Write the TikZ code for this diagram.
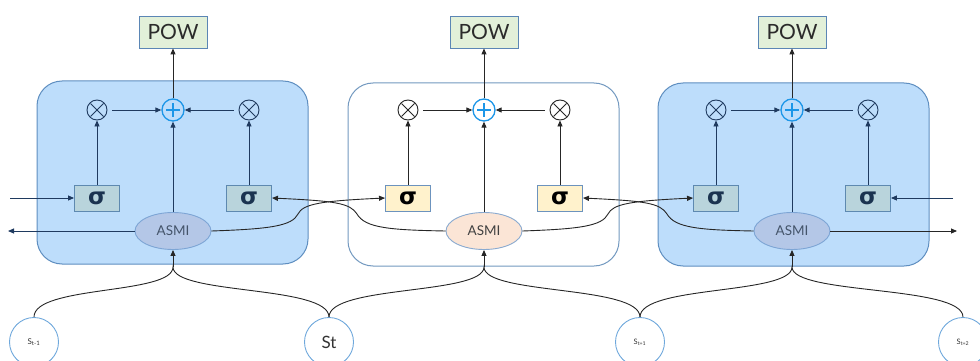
\documentclass[tikz,border=0pt]{standalone}
\usepackage{fontspec}
\setmainfont{Lato}
\newfontfamily\sigmafont{DejaVu Sans}
\usetikzlibrary{arrows.meta,calc,shapes.geometric}

\definecolor{cellfill}{HTML}{BDDDFB}
\definecolor{cellline}{HTML}{5E8EC0}
\definecolor{plainline}{HTML}{7399C0}
\definecolor{powfill}{HTML}{E2F0D9}
\definecolor{powline}{HTML}{5B86B5}
\definecolor{powtext}{HTML}{2B2B2B}
\definecolor{gatefill}{HTML}{B9D4DC}
\definecolor{gateline}{HTML}{5E89B0}
\definecolor{gatetext}{HTML}{1B3350}
\definecolor{yellowfill}{HTML}{FFF2CC}
\definecolor{yellowline}{HTML}{6C93BE}
\definecolor{asmifill}{HTML}{B4C7E7}
\definecolor{asmiline}{HTML}{7DA5D5}
\definecolor{asmitext}{HTML}{44546A}
\definecolor{peachfill}{HTML}{FBE5D6}
\definecolor{peachline}{HTML}{8AAAD0}
\definecolor{plusblue}{HTML}{1C96E8}
\definecolor{navyline}{HTML}{1F3A5F}
\definecolor{darkline}{HTML}{262626}
\definecolor{statering}{HTML}{6FA8DC}

\tikzset{
  cellbox/.style={rounded corners=25pt, line width=1pt},
  bluecell/.style={cellbox, draw=cellline, fill=cellfill},
  whitecell/.style={cellbox, draw=plainline, fill=white},
  powbox/.style={draw=powline, fill=powfill, minimum width=68pt, minimum height=32pt,
    inner sep=0pt, line width=0.9pt, text=powtext, font=\fontsize{21}{24}\selectfont},
  gate/.style={minimum width=45pt, minimum height=26pt, inner sep=0pt, line width=0.9pt,
    font=\sigmafont\bfseries\fontsize{23}{24}\selectfont},
  gateblue/.style={gate, draw=gateline, fill=gatefill, text=gatetext},
  gateyellow/.style={gate, draw=yellowline, fill=yellowfill, text=black},
  asmi/.style={ellipse, minimum width=76pt, minimum height=37pt, inner sep=0pt,
    line width=0.9pt, font=\fontsize{13.5}{15}\selectfont},
  asmiblue/.style={asmi, draw=asmiline, fill=asmifill, text=asmitext},
  asmipeach/.style={asmi, draw=peachline, fill=peachfill, text=black!75},
  addnode/.style={circle, minimum size=22pt, inner sep=0pt, draw=plusblue, line width=1.3pt},
  mulnode/.style={circle, minimum size=20pt, inner sep=0pt, line width=0.9pt},
  state/.style={circle, minimum size=49pt, inner sep=0pt, draw=statering, fill=white,
    line width=0.9pt, text=black!80},
  arr/.style={-{Triangle[length=6pt,width=5pt]}, line width=0.9pt},
  wire/.style={line width=0.9pt, draw=darkline},
}

\newcommand\plussign[1]{%
  \draw[plusblue, line width=1.3pt] ($(#1.center)+(-7,0)$) -- ($(#1.center)+(7,0)$);
  \draw[plusblue, line width=1.3pt] ($(#1.center)+(0,-7)$) -- ($(#1.center)+(0,7)$);}
\newcommand\timessign[2]{%
  \draw[#2, line width=0.9pt] ($(#1.center)+(-6.5,-6.5)$) -- ($(#1.center)+(6.5,6.5)$);
  \draw[#2, line width=0.9pt] ($(#1.center)+(-6.5,6.5)$) -- ($(#1.center)+(6.5,-6.5)$);}

\begin{document}
\begin{tikzpicture}[x=1pt, y=-1pt]
\useasboundingbox (0,0) rectangle (980,361);

% the three cells
\draw[bluecell] (37,81) rectangle (308,264);
\draw[whitecell] (348,83) rectangle (619,266);
\draw[bluecell] (658,83) rectangle (929,266);

% ---- cell 1 ----
\node[powbox] (pow1) at (173,32) {POW};
\node[addnode] (add1) at (173,110) {};
\node[mulnode, draw=navyline] (mulL1) at (97,110) {};
\node[mulnode, draw=navyline] (mulR1) at (249,110) {};
\node[gateblue] (sigL1) at (97,198) {σ};
\node[gateblue] (sigR1) at (249,198) {σ};
\node[asmiblue] (asmi1) at (173,231) {ASMI};
\coordinate (join1) at (173,267);

% ---- cell 2 ----
\node[powbox] (pow2) at (484,32) {POW};
\node[addnode] (add2) at (484,110) {};
\node[mulnode, draw=darkline] (mulL2) at (408,110) {};
\node[mulnode, draw=darkline] (mulR2) at (560,110) {};
\node[gateyellow] (sigL2) at (408,198) {σ};
\node[gateyellow] (sigR2) at (560,198) {σ};
\node[asmipeach] (asmi2) at (484,231) {ASMI};
\coordinate (join2) at (484,267);

% ---- cell 3 ----
\node[powbox] (pow3) at (792,32) {POW};
\node[addnode] (add3) at (792,110) {};
\node[mulnode, draw=navyline] (mulL3) at (716,110) {};
\node[mulnode, draw=navyline] (mulR3) at (868,110) {};
\node[gateblue] (sigL3) at (716,198) {σ};
\node[gateblue] (sigR3) at (868,198) {σ};
\node[asmiblue] (asmi3) at (792,231) {ASMI};
\coordinate (join3) at (792,267);

\plussign{add1}\plussign{add2}\plussign{add3}
\timessign{mulL1}{navyline}\timessign{mulR1}{navyline}
\timessign{mulL2}{darkline}\timessign{mulR2}{darkline}
\timessign{mulL3}{navyline}\timessign{mulR3}{navyline}

% states
\node[state] (s0) at (34,342) {\fontsize{8}{9}\selectfont S\textsubscript{t-1}};
\node[state] (s1) at (329,342) {\fontsize{17}{19}\selectfont St};
\node[state] (s2) at (640,342) {\fontsize{7.5}{8}\selectfont S\textsubscript{t+1}};
\node[state] (s3) at (963,342) {\fontsize{7.5}{8}\selectfont S\textsubscript{t+2}};

% free ends
\coordinate (inL) at (10,198);
\coordinate (outL) at (8,231);
\coordinate (inR) at (953,198);
\coordinate (outR) at (957,231);

% inside the cells
\foreach \k/\col in {1/navyline, 2/darkline, 3/navyline}{
  \draw[arr, \col] (sigL\k) -- (mulL\k);
  \draw[arr, \col] (sigR\k) -- (mulR\k);
  \draw[arr, \col] (asmi\k) -- (add\k);
  \draw[arr, \col, shorten <=5pt] (mulL\k) -- (add\k);
  \draw[arr, \col, shorten <=5pt] (mulR\k) -- (add\k);
  \draw[arr, darkline] (add\k) -- (pow\k);
  \draw[arr, darkline] (join\k) -- (asmi\k.south);
}

% state inputs
\draw[wire] (s0.north) .. controls (34,285) and (173,295) .. (join1)
            .. controls (173,295) and (329,285) .. (s1.north);
\draw[wire] (s1.north) .. controls (329,285) and (484,295) .. (join2)
            .. controls (484,295) and (640,285) .. (s2.north);
\draw[wire] (s2.north) .. controls (640,285) and (792,295) .. (join3)
            .. controls (792,295) and (963,285) .. (s3.north);

% outer inputs and outputs
\draw[arr, navyline] (inL) -- (sigL1.west);
\draw[arr, navyline] (asmi1.west) -- (outL);
\draw[arr, navyline] (inR) -- (sigR3.east);
\draw[arr, darkline] (asmi3.east) -- (outR);

% crossing links between neighbouring cells
\draw[arr, darkline] (asmi1.east) .. controls (270,229) and (292,226) .. (298,214)
      .. controls (303,204) and (320,201) .. (sigL2.west);
\draw[arr, darkline] (asmi2.west) .. controls (390,230) and (365,228) .. (357,214)
      .. controls (350,203) and (335,201) .. (sigR1.east);
\draw[arr, darkline] (asmi2.east) .. controls (580,229) and (602,226) .. (608,214)
      .. controls (613,204) and (630,201) .. (sigL3.west);
\draw[arr, darkline] (asmi3.west) .. controls (700,230) and (675,228) .. (667,214)
      .. controls (660,203) and (645,201) .. (sigR2.east);
\end{tikzpicture}
\end{document}
